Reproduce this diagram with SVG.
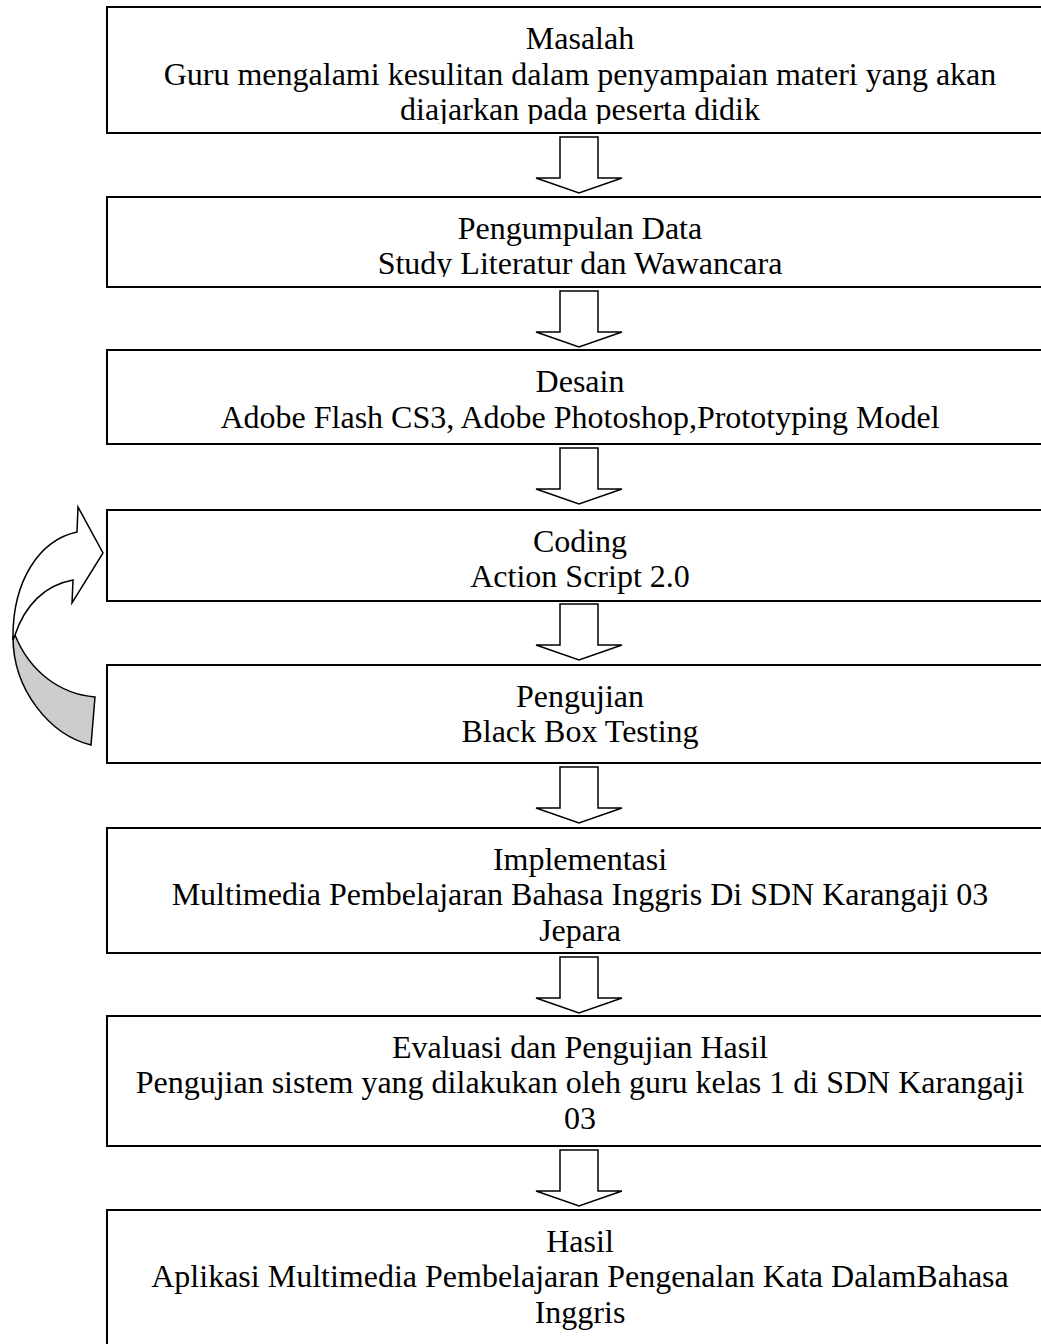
<svg xmlns="http://www.w3.org/2000/svg" width="1041" height="1344" viewBox="0 0 1041 1344">
<style>
.box{fill:#fff;stroke:#000;stroke-width:2}
.t{font-family:"Liberation Serif","Times New Roman",serif;font-size:32px;fill:#000;text-anchor:middle}
.arr{fill:#fff;stroke:#000;stroke-width:1.5;stroke-linejoin:miter}
.curve{fill:#fff;stroke:#000;stroke-width:1.5;stroke-linejoin:miter}
.curveShade{fill:#cdcdcd;stroke:#000;stroke-width:1.5}
</style>
<defs>
<clipPath id="clip1"><rect x="107" y="7" width="946" height="117"/></clipPath>
<clipPath id="clip2"><rect x="107" y="197" width="946" height="80"/></clipPath>
<path id="downArrow" d="M -19,0 L 19,0 L 19,41 L 43,41 L 0,56 L -43,41 L -19,41 Z"/>
</defs>
<rect width="1041" height="1344" fill="#fff"/>

<g id="connectors">
<use href="#downArrow" class="arr" transform="translate(579,137)"/>
<use href="#downArrow" class="arr" transform="translate(579,291)"/>
<use href="#downArrow" class="arr" transform="translate(579,448)"/>
<use href="#downArrow" class="arr" transform="translate(579,604)"/>
<use href="#downArrow" class="arr" transform="translate(579,767)"/>
<use href="#downArrow" class="arr" transform="translate(579,957)"/>
<use href="#downArrow" class="arr" transform="translate(579,1150)"/>
<g id="loop-arrow">
<path class="curveShade" d="M 13,637 C 13,690 50,735 91,745 L 95,697 C 60,694 30,672 15,635 Z"/>
<path class="curve" d="M 13,640 C 12,580 40,540 77,532 L 78,507 L 103,553 L 72,603 L 73,580 C 45,585 25,605 15,635 Z"/>
</g>
</g>

<g id="node-masalah">
<rect class="box" x="107" y="7" width="946" height="126"/>
<text class="t" x="580" y="49">Masalah</text>
<text class="t" x="580" y="85">Guru mengalami kesulitan dalam penyampaian materi yang akan</text>
<text class="t" x="580" y="120" clip-path="url(#clip1)">diajarkan pada peserta didik</text>
</g>

<g id="node-pengumpulan">
<rect class="box" x="107" y="197" width="946" height="90"/>
<text class="t" x="580" y="239">Pengumpulan Data</text>
<text class="t" x="580" y="274" clip-path="url(#clip2)">Study Literatur dan Wawancara</text>
</g>

<g id="node-desain">
<rect class="box" x="107" y="350" width="946" height="94"/>
<text class="t" x="580" y="392">Desain</text>
<text class="t" x="580" y="428">Adobe Flash CS3, Adobe Photoshop,Prototyping Model</text>
</g>

<g id="node-coding">
<rect class="box" x="107" y="510" width="946" height="91"/>
<text class="t" x="580" y="552">Coding</text>
<text class="t" x="580" y="587">Action Script 2.0</text>
</g>

<g id="node-pengujian">
<rect class="box" x="107" y="665" width="946" height="98"/>
<text class="t" x="580" y="707">Pengujian</text>
<text class="t" x="580" y="742">Black Box Testing</text>
</g>

<g id="node-implementasi">
<rect class="box" x="107" y="828" width="946" height="125"/>
<text class="t" x="580" y="870">Implementasi</text>
<text class="t" x="580" y="905">Multimedia Pembelajaran Bahasa Inggris Di SDN Karangaji 03</text>
<text class="t" x="580" y="941">Jepara</text>
</g>

<g id="node-evaluasi">
<rect class="box" x="107" y="1016" width="946" height="130"/>
<text class="t" x="580" y="1058">Evaluasi dan Pengujian Hasil</text>
<text class="t" x="580" y="1093">Pengujian sistem yang dilakukan oleh guru kelas 1 di SDN Karangaji</text>
<text class="t" x="580" y="1129">03</text>
</g>

<g id="node-hasil">
<rect class="box" x="107" y="1210" width="946" height="150"/>
<text class="t" x="580" y="1252">Hasil</text>
<text class="t" x="580" y="1287">Aplikasi Multimedia Pembelajaran Pengenalan Kata DalamBahasa</text>
<text class="t" x="580" y="1323">Inggris</text>
</g>
</svg>
